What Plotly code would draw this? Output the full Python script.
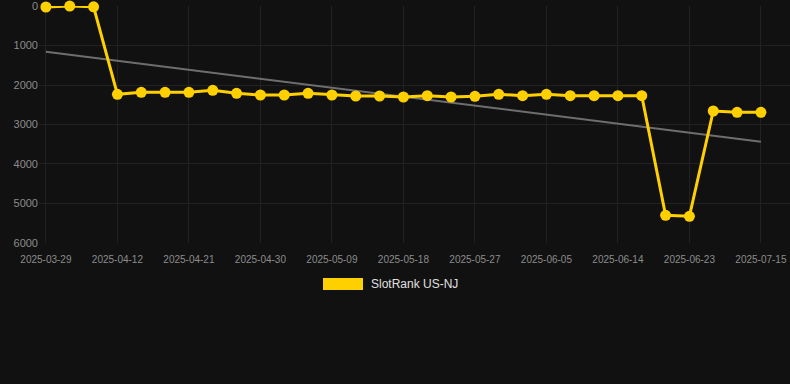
import plotly.graph_objects as go

dates = [
    "2025-03-29", "2025-04-01", "2025-04-06", "2025-04-12", "2025-04-15",
    "2025-04-18", "2025-04-21", "2025-04-24", "2025-04-27", "2025-04-30",
    "2025-05-03", "2025-05-06", "2025-05-09", "2025-05-12", "2025-05-15",
    "2025-05-18", "2025-05-21", "2025-05-24", "2025-05-27", "2025-05-30",
    "2025-06-02", "2025-06-05", "2025-06-08", "2025-06-11", "2025-06-14",
    "2025-06-17", "2025-06-20", "2025-06-23", "2025-07-09", "2025-07-12",
    "2025-07-15",
]
rank = [
    25, 0, 20, 2235, 2185,
    2185, 2185, 2134, 2210, 2253,
    2253, 2210, 2253, 2278, 2278,
    2304, 2270, 2304, 2287, 2235,
    2270, 2235, 2270, 2270, 2270,
    2270, 5300, 5325, 2658, 2692,
    2692,
]
trend_dates = [dates[0], dates[-1]]
trend_values = [1157, 3435]
tick_dates = dates[::3]
y_ticks = [0, 1000, 2000, 3000, 4000, 5000, 6000]
series_name = "SlotRank US-NJ"

W, H = 790, 384
L, R, T, B = 39, 0, 6, 141
pw, ph = W - L - R, H - T - B

fig = go.Figure()
fig.add_trace(go.Scatter(
    x=trend_dates, y=trend_values, mode="lines",
    line=dict(color="#6e6e6e", width=2), showlegend=False, hoverinfo="skip",
    cliponaxis=False,
))
fig.add_trace(go.Scatter(
    x=dates, y=rank, mode="lines+markers", name=series_name,
    line=dict(color="#FFD000", width=3),
    marker=dict(color="#FFD000", size=11),
    showlegend=False, cliponaxis=False,
))

def px_x(p):
    return (p - L) / pw

def px_y(p):
    return (H - B - p) / ph

fig.add_shape(type="rect", xref="paper", yref="paper",
              x0=px_x(323), x1=px_x(363), y0=px_y(290), y1=px_y(278),
              fillcolor="#FFD000", line=dict(width=0))
fig.add_annotation(xref="paper", yref="paper", x=px_x(369), y=px_y(284),
                   xanchor="left", yanchor="middle", showarrow=False,
                   text=series_name, font=dict(size=12, color="#e0e0e0"))

fig.update_layout(
    width=W, height=H,
    margin=dict(l=L, r=R, t=T, b=B),
    paper_bgcolor="#111111", plot_bgcolor="#111111",
    font=dict(family="Liberation Sans, Arial, sans-serif", color="#8c8c8c"),
    showlegend=False,
    xaxis=dict(
        type="category", categoryorder="array", categoryarray=dates,
        range=[-0.29, 31.22],
        tickmode="array", tickvals=tick_dates, ticktext=tick_dates,
        tickfont=dict(size=10, color="#8c8c8c"),
        ticklabelstandoff=9,
        showgrid=True, gridcolor="#222222", gridwidth=1,
        zeroline=False, showline=False, ticks="",
    ),
    yaxis=dict(
        range=[6000.5, -0.5], tickmode="array", tickvals=y_ticks,
        tickfont=dict(size=11, color="#8c8c8c"),
        ticklabeloverflow="allow",
        showgrid=True, gridcolor="#222222", gridwidth=1,
        zeroline=False, showline=False, ticks="",
    ),
)

fig.write_html(
    "out.html",
    config={"displayModeBar": False},
    post_script="document.body.style.margin='0';document.body.style.background='#111111';",
)
